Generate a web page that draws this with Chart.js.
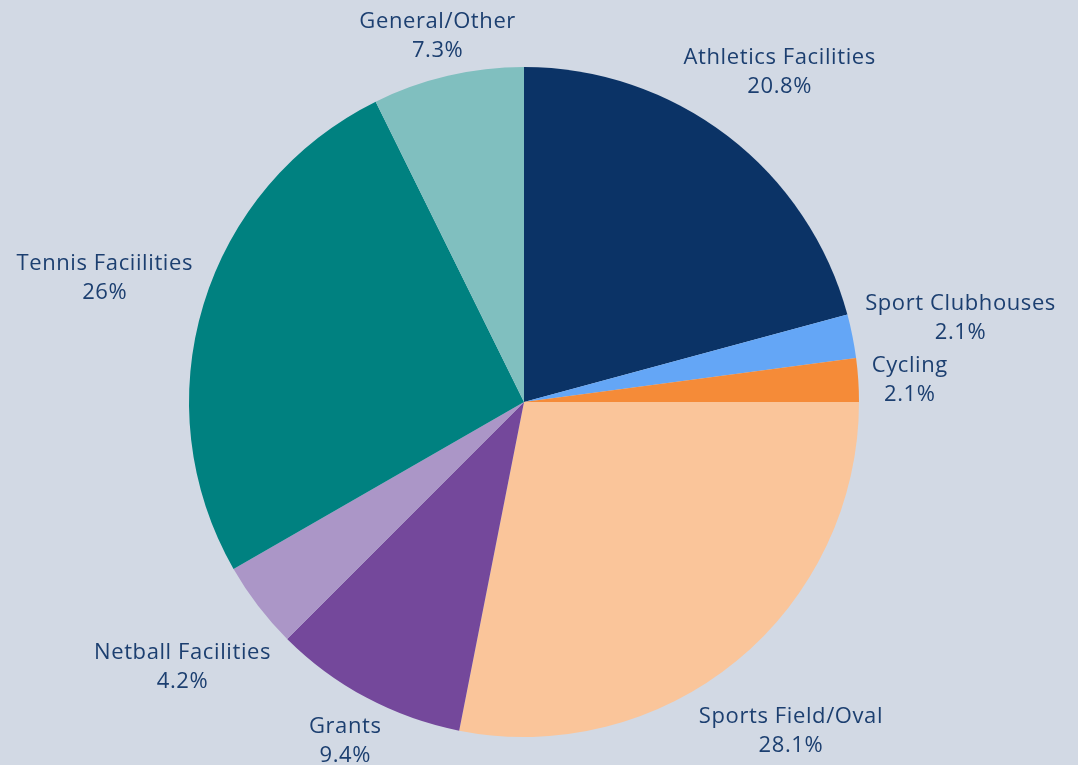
<!DOCTYPE html>
<html>
<head>
<meta charset="utf-8">
<script src="https://cdn.jsdelivr.net/npm/chart.js@4.4.1/dist/chart.umd.min.js"></script>
<style>
    html, body { margin: 0; padding: 0; background: #d2d9e4; }
    #myChart { display: block; }
</style>
</head>
<body>
<canvas id="myChart" width="1078" height="765"></canvas>
<script>
const categories = [
    'Athletics Facilities',
    'Sport Clubhouses',
    'Cycling',
    'Sports Field/Oval',
    'Grants',
    'Netball Facilities',
    'Tennis Faciilities',
    'General/Other',
];
const shares = [20.8, 2.1, 2.1, 28.1, 9.4, 4.2, 26, 7.3];
const sliceColors = ['#0b3366', '#64a6f6', '#f58b38', '#fac59a', '#74489b', '#ab96c7', '#008180', '#80bfbf'];

const labelFont = '22px "Open Sans"';
const labelColor = '#1c3f70';
const lineHeight = 29;

// draw "name / value%" outside each slice, pushed out along the middle angle
const outsideLabels = {
    id: 'outsideLabels',
    afterDatasetsDraw(chart) {
        const ctx = chart.ctx;
        const meta = chart.getDatasetMeta(0);
        ctx.save();
        ctx.font = labelFont;
        ctx.letterSpacing = '0.6px';
        ctx.fillStyle = labelColor;
        ctx.textAlign = 'center';
        ctx.textBaseline = 'middle';
        meta.data.forEach((arc, i) => {
            const p = arc.getProps(['x', 'y', 'startAngle', 'endAngle', 'outerRadius'], true);
            const mid = (p.startAngle + p.endAngle) / 2;
            const dx = Math.cos(mid);
            const dy = Math.sin(mid);
            const lines = [categories[i], shares[i] + '%'];
            const w = Math.max(...lines.map(l => ctx.measureText(l).width)) / 2;
            const h = lines.length * lineHeight / 2 - 4;
            const gap = 12 * Math.abs(dx);
            const dist = p.outerRadius + gap + Math.abs(w * dx) + Math.abs(h * dy);
            const cx = p.x + dx * dist;
            const cy = p.y + dy * dist + 4;
            lines.forEach((l, k) => {
                ctx.fillText(l, cx, cy + (k - (lines.length - 1) / 2) * lineHeight);
            });
        });
        ctx.restore();
    },
};

const data = {
    labels: categories,
    datasets: [
        {
            data: shares,
            backgroundColor: sliceColors,
            borderWidth: 0,
        },
    ],
};

const config = {
    type: 'pie',
    data,
    options: {
        responsive: false,
        maintainAspectRatio: false,
        animation: false,
        layout: {
            padding: { left: 189, right: 219, top: 67, bottom: 28 },
        },
        plugins: {
            legend: { display: false },
            tooltip: { enabled: false },
        },
    },
    plugins: [outsideLabels],
};

const myChart = new Chart(document.getElementById('myChart'), config);
</script>
</body>
</html>
